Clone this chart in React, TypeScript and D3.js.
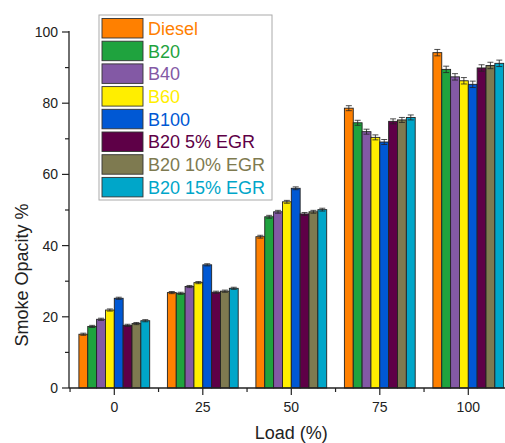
import React from "react";
import * as d3 from "d3";

const loads = [0, 25, 50, 75, 100];
const seriesNames = ["Diesel", "B20", "B40", "B60", "B100", "B20 5% EGR", "B20 10% EGR", "B20 15% EGR"];
const seriesColors = ["#FF8000", "#1FA33E", "#8359A5", "#FFEE00", "#0058D4", "#5E0047", "#7E7A50", "#00A6C9"];
const textColors = ["#FF8000", "#1FA33E", "#8359A5", "#FFEE00", "#0058D4", "#5E0047", "#7E7A50", "#00A6C9"];

const diesel = [15.1, 26.8, 42.5, 78.6, 94.2];
const b20 = [17.3, 26.6, 48.1, 74.5, 89.5];
const b40 = [19.3, 28.5, 49.5, 72.0, 87.4];
const b60 = [21.9, 29.6, 52.3, 70.4, 86.3];
const b100 = [25.2, 34.6, 56.1, 69.1, 85.3];
const b20egr5 = [17.6, 26.9, 48.9, 74.9, 89.9];
const b20egr10 = [18.1, 27.2, 49.5, 75.3, 90.6];
const b20egr15 = [18.9, 28.0, 50.1, 76.0, 91.2];
const errors = [0.3, 0.3, 0.4, 0.7, 0.9];

const seriesValues = [diesel, b20, b40, b60, b100, b20egr5, b20egr10, b20egr15];
const yTicks = [0, 20, 40, 60, 80, 100];
const yMinor = [10, 30, 50, 70, 90];
const xMinor = [-12.5, 12.5, 37.5, 62.5, 87.5, 112.5];

const FONT = "'Liberation Sans', Arial, sans-serif";

export default function App() {
  const W = 505, H = 443;
  const x = d3.scaleLinear().domain([0, 100]).range([114.3, 468.3]);
  const y = d3.scaleLinear().domain([0, 100]).range([388, 32]);
  const axisX = 69;
  const barUnits = 2.5;
  const bw = x(barUnits) - x(0);

  return (
    <svg width={W} height={H} style={{ position: "absolute", left: 0, top: 0, background: "#fff" }}>
      {/* bars */}
      {seriesValues.map((vals, si) =>
        vals.map((v, gi) => {
          const cx = x(loads[gi] + (si - 3.5) * barUnits);
          const e = errors[gi];
          return (
            <g key={`${si}-${gi}`}>
              <rect x={cx - bw / 2} y={y(v)} width={bw} height={y(0) - y(v)} fill={seriesColors[si]} stroke="#222" strokeWidth={0.9} />
              <line x1={cx} x2={cx} y1={y(v + e)} y2={y(v - e)} stroke="#222" strokeWidth={0.8} />
              <line x1={cx - 3} x2={cx + 3} y1={y(v + e)} y2={y(v + e)} stroke="#222" strokeWidth={0.8} />
              <line x1={cx - 3} x2={cx + 3} y1={y(v - e)} y2={y(v - e)} stroke="#222" strokeWidth={0.8} />
            </g>
          );
        })
      )}
      {/* axes */}
      <line x1={axisX} x2={axisX} y1={y(0)} y2={y(100) - 1} stroke="#222" strokeWidth={1.3} />
      <line x1={axisX} x2={W + 10} y1={y(0)} y2={y(0)} stroke="#222" strokeWidth={1.3} />
      {yTicks.map((t) => (
        <g key={`yt${t}`}>
          <line x1={axisX - 7} x2={axisX} y1={y(t)} y2={y(t)} stroke="#222" strokeWidth={1.2} />
          <text x={axisX - 11} y={y(t)} dy="0.35em" textAnchor="end" fontFamily={FONT} fontSize={14} fill="#222">{t}</text>
        </g>
      ))}
      {yMinor.map((t) => (
        <line key={`ym${t}`} x1={axisX - 4} x2={axisX} y1={y(t)} y2={y(t)} stroke="#222" strokeWidth={1.2} />
      ))}
      {loads.map((t) => (
        <g key={`xt${t}`}>
          <line x1={x(t)} x2={x(t)} y1={y(0)} y2={y(0) + 7} stroke="#222" strokeWidth={1.2} />
          <text x={x(t)} y={407} dy="0.35em" textAnchor="middle" fontFamily={FONT} fontSize={14} fill="#222">{t}</text>
        </g>
      ))}
      {xMinor.map((t) => (
        <line key={`xm${t}`} x1={x(t)} x2={x(t)} y1={y(0)} y2={y(0) + 4} stroke="#222" strokeWidth={1.2} />
      ))}
      <text x={x(50)} y={433} dy="0.35em" textAnchor="middle" fontFamily={FONT} fontSize={18} fill="#222">Load (%)</text>
      <text transform={`translate(22,${(y(0) + y(100)) / 2 + 65}) rotate(-90)`} textAnchor="middle" dy="0.35em" fontFamily={FONT} fontSize={18} fill="#222">Smoke Opacity %</text>
      {/* legend */}
      <rect x={99} y={15} width={173} height={185} fill="#fff" stroke="#aaa" strokeWidth={1} />
      {seriesNames.map((n, i) => (
        <g key={`lg${i}`}>
          <rect x={102} y={18.5 + i * 22.7} width={41} height={19.5} fill={seriesColors[i]} stroke="#333" strokeWidth={0.9} />
          <text x={148} y={28.5 + i * 22.7} dy="0.35em" fontFamily={FONT} fontSize={18} fill={textColors[i]}>{n}</text>
        </g>
      ))}
    </svg>
  );
}
